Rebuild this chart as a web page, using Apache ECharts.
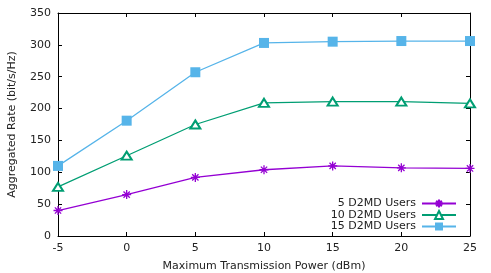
<!DOCTYPE html>
<html><head><meta charset="utf-8">
<script src="https://cdn.jsdelivr.net/npm/echarts@6/dist/echarts.min.js"></script>
<style>html,body{margin:0;padding:0;background:#fff}#c{width:491px;height:273px}</style>
</head><body><div id="c"></div>
<script>
const xValues = [-5, 0, 5, 10, 15, 20, 25];
const users5 = [40, 65, 92, 104, 110, 107, 106];
const users10 = [77, 126, 175, 209, 211, 211, 208];
const users15 = [110, 181, 257, 303, 305, 306, 306];
const seriesNames = ['5 D2MD Users', '10 D2MD Users', '15 D2MD Users'];
const xTicks = {min: -5, max: 25, interval: 5};
const yTicks = {min: 0, max: 350, interval: 50};

const font = 'DejaVu Sans';
const asterisk = 'path://M5,0L5,10M0,5L10,5M1.5,1.5L8.5,8.5M8.5,1.5L1.5,8.5';
const pair = (arr) => xValues.map((x, i) => [x, arr[i]]);
const tickStyle = {show: true, inside: true, length: 4, lineStyle: {color: '#000', width: 1}};
const lineAx = {show: true, onZero: false, lineStyle: {color: '#000', width: 1}};
const labelStyle = {color: '#222', fontFamily: font, fontSize: 11};

const chart = echarts.init(document.getElementById('c'));
chart.setOption({
  animation: false,
  backgroundColor: '#fff',
  grid: {left: 58, right: 21, top: 13, bottom: 37, outerBoundsMode: 'none', containLabel: false},
  legend: [0, 1, 2].map(i => ({
    data: [seriesNames[i]], right: 34, top: 198 + i * 11.5, align: 'right',
    itemWidth: 34, itemHeight: 10, itemGap: 0, padding: 0,
    textStyle: {color: '#222', fontFamily: font, fontSize: 11, padding: [0, 1, 0, 0]}
  })),
  xAxis: [{
    type: 'value', min: xTicks.min, max: xTicks.max, interval: xTicks.interval,
    name: 'Maximum Transmission Power (dBm)', nameLocation: 'middle', nameGap: 25,
    nameTextStyle: labelStyle,
    axisLine: lineAx, axisTick: tickStyle, axisLabel: Object.assign({margin: 7}, labelStyle),
    splitLine: {show: false}
  }, {
    type: 'value', position: 'top', min: xTicks.min, max: xTicks.max, interval: xTicks.interval,
    axisLine: lineAx, axisTick: tickStyle, axisLabel: {show: false}, splitLine: {show: false}
  }],
  yAxis: [{
    type: 'value', min: yTicks.min, max: yTicks.max, interval: yTicks.interval,
    name: 'Aggregated Rate (bit/s/Hz)', nameLocation: 'middle', nameGap: 40,
    nameTextStyle: labelStyle,
    axisLine: lineAx, axisTick: tickStyle, axisLabel: Object.assign({margin: 7}, labelStyle),
    splitLine: {show: false}
  }, {
    type: 'value', position: 'right', min: yTicks.min, max: yTicks.max, interval: yTicks.interval,
    axisLine: lineAx, axisTick: tickStyle, axisLabel: {show: false}, splitLine: {show: false}
  }],
  series: [
    {name: seriesNames[0], type: 'line', data: pair(users5), symbol: asterisk, symbolSize: 9,
     lineStyle: {color: '#9400d3', width: 1.3},
     itemStyle: {color: '#9400d3', borderColor: '#9400d3', borderWidth: 1.3}},
    {name: seriesNames[1], type: 'line', data: pair(users10), symbol: 'emptyTriangle', symbolSize: [10, 8],
     lineStyle: {color: '#009e73', width: 1.3},
     itemStyle: {color: '#009e73', borderColor: '#009e73', borderWidth: 1}},
    {name: seriesNames[2], type: 'line', data: pair(users15), symbol: 'rect', symbolSize: 10,
     lineStyle: {color: '#56b4e9', width: 1.3},
     itemStyle: {color: '#56b4e9', borderColor: '#56b4e9', borderWidth: 0}}
  ]
});
</script></body></html>
